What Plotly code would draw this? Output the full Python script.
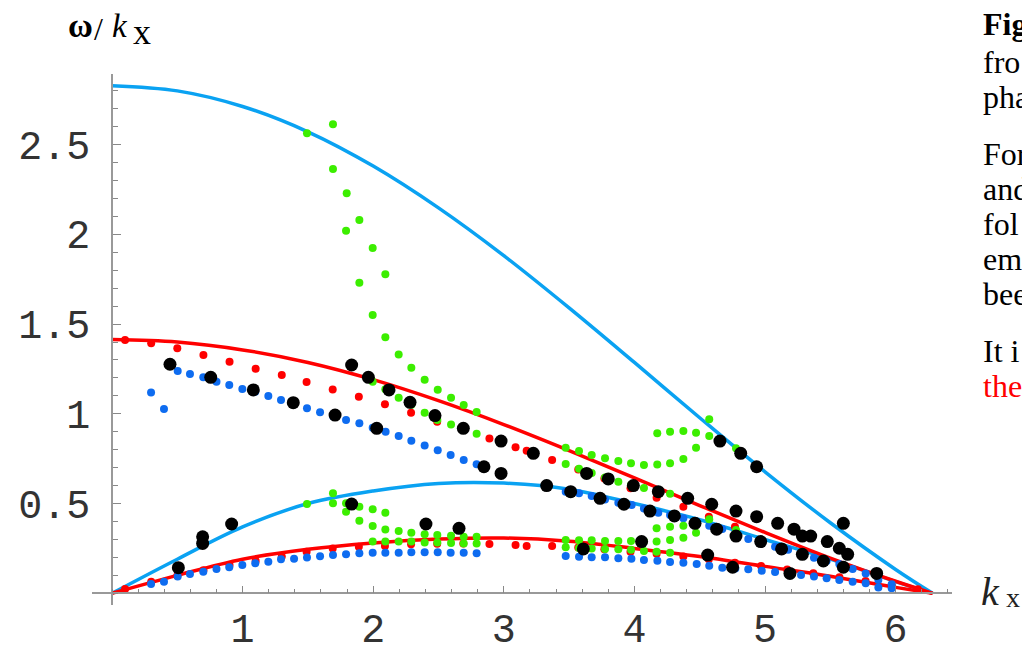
import plotly.graph_objects as go

# ---------------- data ----------------
k_curve = [0, 0.5, 1, 1.5, 2, 2.5, 3, 3.5, 4, 4.5, 5, 5.5, 6, 6.283]
cyan_upper = [2.828, 2.799, 2.712, 2.571, 2.380, 2.147, 1.881, 1.590, 1.286, 0.978, 0.677, 0.393, 0.133, 0.0]
cyan_lower = [0.0, 0.19, 0.37, 0.50, 0.57, 0.612, 0.614, 0.58, 0.50, 0.41, 0.30, 0.19, 0.065, 0.0]
red_upper = [1.414, 1.400, 1.356, 1.286, 1.190, 1.073, 0.940, 0.795, 0.643, 0.489, 0.339, 0.196, 0.067, 0.0]
red_lower = [0.0, 0.10, 0.19, 0.245, 0.28, 0.302, 0.308, 0.29, 0.25, 0.205, 0.15, 0.095, 0.033, 0.0]

red_k = [0.1, 0.3, 0.5, 0.7, 0.9, 1.1, 1.3, 1.49, 1.69, 1.89, 2.09, 2.29, 2.49, 2.69, 2.89, 3.09, 3.175, 3.37,
         3.57, 3.77, 3.97, 4.17, 4.375, 4.57, 4.77,
         0.1, 0.3, 0.5, 0.7, 0.9, 1.1, 1.3, 1.49, 1.69, 1.89, 2.09, 2.29, 2.49, 2.69, 2.89, 3.09, 3.175, 3.37,
         3.57, 3.77, 3.97, 4.17, 4.375, 4.57, 4.77, 4.97, 5.17, 5.37, 5.57, 5.77, 5.97, 6.17]
red_v = [1.411, 1.393, 1.365, 1.328, 1.290, 1.251, 1.216, 1.177, 1.136, 1.095, 1.053, 1.006, 0.956, 0.91, 0.863, 0.813, 0.794, 0.743,
         0.69, 0.64, 0.585, 0.533, 0.482, 0.427, 0.371,
         0.024, 0.065, 0.098, 0.128, 0.158, 0.18, 0.205, 0.232, 0.25, 0.26, 0.263, 0.273, 0.276, 0.277, 0.275, 0.269, 0.263, 0.263,
         0.255, 0.245, 0.232, 0.22, 0.205, 0.19, 0.17, 0.152, 0.133, 0.112, 0.09, 0.068, 0.045, 0.022]

blue_k = [0.299, 0.398, 0.503, 0.597, 0.699, 0.80, 0.898, 0.998, 1.097, 1.197, 1.294, 1.394, 1.493, 1.593, 1.693,
          1.792, 1.894, 1.996, 2.095, 2.195, 2.292, 2.394, 2.494, 2.593, 2.693, 2.792,
          3.474, 3.576, 3.673, 3.775, 3.877, 3.979, 4.073, 4.183, 4.273, 4.375, 4.475, 4.573, 4.673, 4.773, 4.872,
          4.975, 5.077, 5.177, 5.276, 5.375, 5.472, 5.569, 5.671, 5.771, 5.868, 5.97,
          0.299, 0.398, 0.503, 0.597, 0.699, 0.80, 0.898, 0.998, 1.097, 1.197, 1.294, 1.394, 1.493, 1.593, 1.692,
          1.792, 1.894, 1.996, 2.093, 2.195, 2.292, 2.394, 2.494, 2.593, 2.693, 2.792,
          3.474, 3.576, 3.673, 3.775, 3.877, 3.977, 4.073, 4.176, 4.273, 4.375, 4.477, 4.573, 4.673, 4.773, 4.872,
          4.975, 5.077, 5.177, 5.276, 5.375, 5.472, 5.569, 5.671, 5.771, 5.868, 5.97]
blue_v = [1.118, 1.027, 1.238, 1.222, 1.203, 1.179, 1.160, 1.138, 1.123, 1.099, 1.077, 1.055, 1.031, 1.008, 0.987,
          0.965, 0.947, 0.922, 0.900, 0.876, 0.850, 0.824, 0.797, 0.770, 0.743, 0.719,
          0.566, 0.557, 0.542, 0.522, 0.505, 0.492, 0.473, 0.449, 0.436, 0.418, 0.397, 0.377, 0.358, 0.33, 0.302,
          0.28, 0.260, 0.242, 0.223, 0.198, 0.18, 0.163, 0.135, 0.111, 0.074, 0.05,
          0.052, 0.065, 0.093, 0.107, 0.120, 0.135, 0.145, 0.158, 0.167, 0.176, 0.189, 0.193, 0.200, 0.207, 0.213,
          0.217, 0.223, 0.226, 0.226, 0.226, 0.228, 0.228, 0.228, 0.226, 0.226, 0.223,
          0.208, 0.204, 0.201, 0.201, 0.195, 0.193, 0.186, 0.182, 0.174, 0.170, 0.163, 0.154, 0.143, 0.138, 0.134,
          0.126, 0.119, 0.11, 0.102, 0.093, 0.084, 0.074, 0.065, 0.056, 0.033, 0.028]

green_k = [1.493, 1.692, 1.692, 1.797, 1.894, 1.792, 1.996, 2.093, 1.894, 1.996, 2.093, 2.195, 2.292, 2.394, 2.494,
           2.596, 2.693, 2.792,
           1.996, 2.093, 2.195, 2.292, 2.394, 2.491, 2.596, 2.693, 2.792,
           3.474, 3.576, 3.673, 3.775, 3.877, 3.974, 4.073, 4.175, 4.273, 4.375, 4.472, 4.573,
           4.175, 4.273, 4.375, 4.472, 4.573, 4.778,
           3.474, 3.576, 3.673, 3.775, 3.877, 3.974, 4.073, 4.175, 4.273,
           1.493, 1.692, 1.692, 1.792, 1.792, 1.894, 1.894, 1.996, 2.093, 1.996, 2.093, 2.195, 2.292, 2.394, 2.491,
           2.596, 2.693, 2.792,
           1.996, 2.093, 2.195, 2.292, 2.394, 2.491, 2.596, 2.693, 2.792,
           3.474, 3.576, 3.673, 3.775, 3.877, 3.974, 4.073,
           3.474, 3.576, 3.673, 3.775, 3.877, 3.974, 4.073, 4.17, 4.273,
           4.17, 4.273, 4.375, 4.472, 4.573, 4.17, 4.273, 4.375, 4.778]
green_v = [2.563, 2.613, 2.364, 2.228, 2.080, 2.020, 1.924, 1.777, 1.730, 1.550, 1.426, 1.331, 1.257, 1.190, 1.134,
           1.090, 1.049, 1.010,
           1.179, 1.137, 1.090, 1.05, 1.006, 0.965, 0.941, 0.915, 0.889,
           0.811, 0.793, 0.770, 0.752, 0.737, 0.724, 0.715, 0.718, 0.724, 0.748, 0.811, 0.876,
           0.891, 0.900, 0.904, 0.895, 0.969, 0.808,
           0.720, 0.694, 0.670, 0.645, 0.622, 0.603, 0.587, 0.57, 0.555,
           0.497, 0.557, 0.501, 0.501, 0.455, 0.482, 0.404, 0.468, 0.449, 0.375, 0.356, 0.347, 0.338, 0.329, 0.325,
           0.32, 0.315, 0.315,
           0.288, 0.288, 0.288, 0.288, 0.283, 0.283, 0.280, 0.278, 0.278,
           0.297, 0.295, 0.295, 0.292, 0.292, 0.292, 0.29,
           0.256, 0.252, 0.250, 0.247, 0.245, 0.243, 0.236, 0.232, 0.226,
           0.362, 0.371, 0.377, 0.338, 0.412, 0.288, 0.297, 0.310, 0.353]

black_k = [0.444, 0.756, 1.082, 1.388, 1.708, 1.835, 1.963, 2.121, 2.282, 2.473, 2.690, 2.979, 3.226,
           2.027, 2.848, 2.979, 3.328, 3.512, 3.634, 3.737, 3.800, 3.920, 3.992, 4.119, 4.183, 4.306,
           4.408, 4.592, 4.778, 4.936, 5.097, 5.222, 5.286, 5.350, 5.477, 5.569, 5.633, 5.600,
           4.655, 4.814, 4.936,
           4.464, 4.630, 4.778, 4.967, 5.127, 5.286, 5.447, 5.600, 5.855,
           0.508, 0.694, 0.694, 0.916, 1.835, 2.404, 2.657, 3.609, 4.055, 4.561, 4.752, 5.191]
black_v = [1.276, 1.203, 1.133, 1.062, 0.993, 1.272, 1.203, 1.133, 1.064, 0.990, 0.919, 0.848, 0.780,
           0.919, 0.705, 0.668, 0.600, 0.566, 0.668, 0.529, 0.637, 0.496, 0.600, 0.458, 0.566, 0.431,
           0.529, 0.496, 0.458, 0.427, 0.390, 0.357, 0.319, 0.319, 0.288, 0.251, 0.217, 0.390,
           0.848, 0.780, 0.705,
           0.390, 0.357, 0.319, 0.288, 0.247, 0.217, 0.180, 0.145, 0.111,
           0.143, 0.315, 0.278, 0.386, 0.497, 0.386, 0.362, 0.247, 0.288, 0.213, 0.145, 0.111]

x_ticks = [1, 2, 3, 4, 5, 6]
x_ticktext = ["1", "2", "3", "4", "5", "6"]
y_ticks = [0.5, 1, 1.5, 2, 2.5]
y_ticktext = ["0.5", "1", "1.5", "2", "2.5"]

side_text = ["<b>Fig</b>", "fro", "pha", "For", "and", "fol", "em", "bee", "It i", "the"]
side_baseline = [35, 73, 108, 165, 200, 235, 270, 305, 362, 397]
side_color = ["black"] * 9 + ["red"]

# ---------------- layout geometry ----------------
W, H = 1022, 647
L, R, T, B = 92, 952, 74, 605
XMIN, XMAX = (92 - 112) / 130.6, (952 - 112) / 130.6
YMIN, YMAX = (593.3 - 605) / 179.5, (593.3 - 74) / 179.5


def px(x):
    return (x - L) / (R - L)


def py(y):
    return (B - y) / (B - T)


SERIF = "Liberation Serif, Times New Roman, serif"
CYAN = "#0aa2f2"
RED = "#ff0000"
BLUE = "#0e6cf0"
GREEN = "#3cee00"

fig = go.Figure()
fig.add_trace(go.Scatter(x=k_curve, y=cyan_upper, mode="lines", line=dict(color=CYAN, width=3.5, shape="spline")))
fig.add_trace(go.Scatter(x=k_curve, y=cyan_lower, mode="lines", line=dict(color=CYAN, width=3.5, shape="spline")))
fig.add_trace(go.Scatter(x=k_curve, y=red_upper, mode="lines", line=dict(color=RED, width=3.5, shape="spline")))
fig.add_trace(go.Scatter(x=k_curve, y=red_lower, mode="lines", line=dict(color=RED, width=3.5, shape="spline")))
fig.add_trace(go.Scatter(x=red_k, y=red_v, mode="markers", marker=dict(color=RED, size=8, line=dict(width=0))))
fig.add_trace(go.Scatter(x=blue_k, y=blue_v, mode="markers", marker=dict(color=BLUE, size=8, line=dict(width=0))))
fig.add_trace(go.Scatter(x=green_k, y=green_v, mode="markers", marker=dict(color=GREEN, size=8, line=dict(width=0))))
fig.add_trace(go.Scatter(x=black_k, y=black_v, mode="markers", marker=dict(color="black", size=13, line=dict(width=0))))

tickfont = dict(family="Liberation Mono, Courier New, monospace", size=40, color="#333")

fig.update_layout(
    width=W, height=H,
    margin=dict(l=L, r=W - R, t=T, b=H - B, autoexpand=False),
    paper_bgcolor="white", plot_bgcolor="white",
    showlegend=False,
    xaxis=dict(range=[XMIN, XMAX], anchor="free", position=(0 - YMIN) / (YMAX - YMIN), automargin=False,
               showline=True, linecolor="#999", linewidth=1.5, showgrid=False, zeroline=False,
               ticks="inside", ticklen=7, tickwidth=1.2, tickcolor="#888",
               tickvals=x_ticks, ticktext=x_ticktext, tickfont=tickfont, ticklabelstandoff=0,
               minor=dict(dtick=0.2, tick0=0, ticks="inside", ticklen=4, tickcolor="#888", tickwidth=1, showgrid=False)),
    yaxis=dict(range=[YMIN, YMAX], anchor="free", position=(0 - XMIN) / (XMAX - XMIN), automargin=False,
               showline=True, linecolor="#999", linewidth=1.5, showgrid=False, zeroline=False,
               ticks="inside", ticklen=8, tickwidth=1.2, tickcolor="#888",
               tickvals=y_ticks, ticktext=y_ticktext, tickfont=tickfont, ticklabelstandoff=13,
               minor=dict(dtick=0.1, tick0=0, ticks="inside", ticklen=5, tickcolor="#888", tickwidth=1, showgrid=False)),
)


def label(text, left, baseline, size, color="black"):
    # yanchor middle: centre of the text box is ~0.34*size above the baseline
    fig.add_annotation(text=text, xref="paper", yref="paper", x=px(left), y=py(baseline - 0.34 * size),
                       xanchor="left", yanchor="middle", showarrow=False, align="left",
                       font=dict(family=SERIF, size=size, color=color))


# axis titles
label("<b>ω</b>", 66, 37, 34)
label("/", 92, 40, 32)
label("<i>k</i>", 110, 37, 33)
label("x", 131, 44, 36)
label("<i>k</i>", 979, 605, 40, "#222")
label("x", 1004, 607, 28, "#222")

# cut-off caption text at the right edge
for t, b, c in zip(side_text, side_baseline, side_color):
    label(t, 981, b, 32, c)

fig.write_html("out.html", config={"displayModeBar": False},
               post_script="document.body.style.margin='0';document.body.style.overflow='hidden';")
